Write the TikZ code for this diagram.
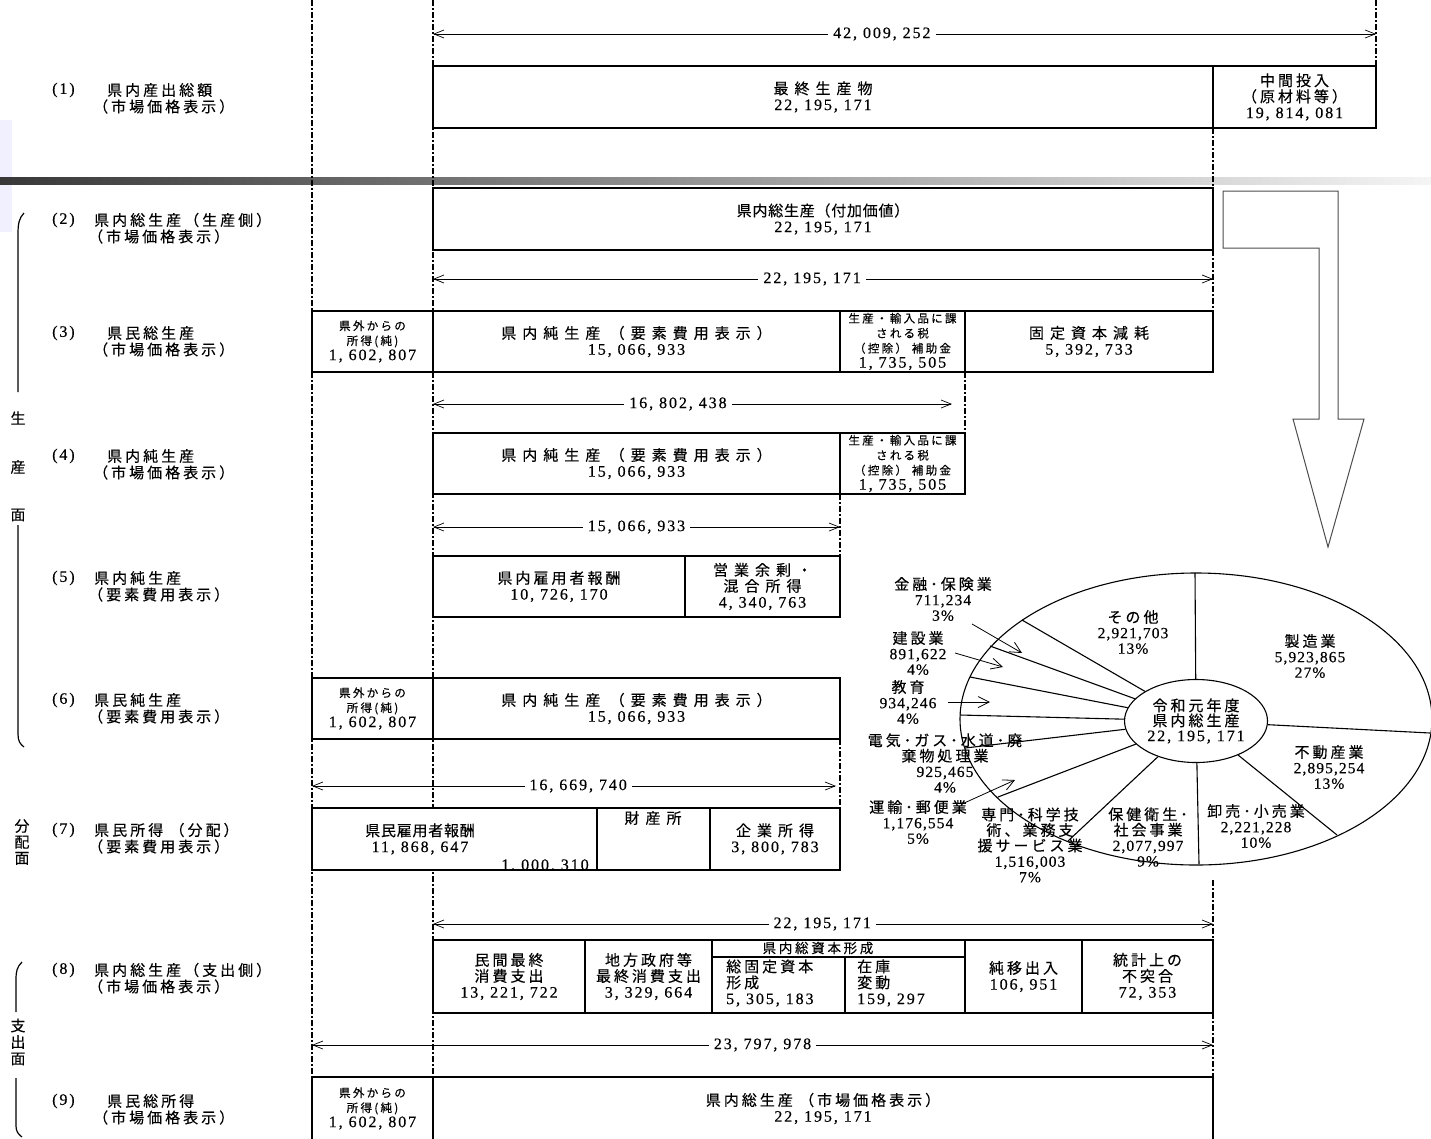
\documentclass[tikz,border=0pt]{standalone}
\usepackage{fontspec}
\setmainfont{Noto Sans CJK JP}
\newfontfamily\jpw[LetterSpace=40,FakeBold=0.3]{Noto Sans CJK JP}
\newfontfamily\jpl[LetterSpace=20,FakeBold=0.3]{Noto Sans CJK JP}
\newfontfamily\jpn[LetterSpace=5,FakeBold=0.3]{Noto Sans CJK JP}
\newfontfamily\numf[LetterSpace=12,FakeBold=0.4]{Liberation Serif}
\newfontfamily\nump[LetterSpace=7,FakeBold=0.4]{Liberation Serif}
\usetikzlibrary{arrows.meta,shapes.geometric}

\newcommand{\fw}{\jpw\fontsize{15}{16}\selectfont}
\newcommand{\fl}{\jpl\fontsize{15}{16}\selectfont}
\newcommand{\fn}{\jpn\fontsize{15}{16}\selectfont}
\newcommand{\fs}{\jpl\fontsize{11.5}{15}\selectfont}
\newcommand{\nb}[1]{{\numf\fontsize{16}{16}\selectfont #1}}
\newcommand{\np}[1]{{\nump\fontsize{15.5}{15.5}\selectfont #1}}
\newcommand{\cellbox}[7][]{%
  \node[cell,minimum width={#5-#3},minimum height={#6-#4},#1] (#2)
    at ({(#3+#5)/2},{(#4+#6)/2}) {#7};}

\tikzset{
  cell/.style={draw,fill=white,line width=1.5pt,inner sep=0pt,align=center,font=\fw},
  guide/.style={line width=1.3pt,dash pattern=on 6pt off 2pt on 2pt off 2pt},
  dim/.style={{Straight Barb[length=10pt,width=8pt]}-{Straight Barb[length=10pt,width=8pt]},line width=0.7pt},
  dimlab/.style={fill=white,inner sep=5pt,font=\numf\fontsize{16}{16}\selectfont},
  lab/.style={anchor=west,inner sep=0pt,font=\fl},
  side/.style={inner sep=0pt,align=center,font=\fn},
  txt/.style={inner sep=0pt,align=center,font=\fl},
  pie/.style={inner sep=0pt,align=center,font=\jpl\fontsize{15}{15.5}\selectfont},
  spoke/.style={line width=1.1pt},
  call/.style={-{Straight Barb[length=11pt,width=11pt]},line width=0.8pt},
}

\begin{document}
\begin{tikzpicture}[x=1pt,y=-1pt]
\useasboundingbox (0,0) rectangle (1431,1138);

% slide decoration
\fill[blue!6] (0,120) rectangle (12,232);
\shade[left color=black!78,middle color=black!38,right color=black!4] (0,177) rectangle (1431,184);

% guide lines
\foreach \x/\ya/\yb in {312/0/1138, 433/0/1138, 1376/0/66, 1213/128/188,
  1213/250/311, 1213/880/940, 1213/1013/1077, 965/372/433, 840/494/556, 840/739/808}
  \draw[guide] (\x,\ya) -- (\x,\yb);

% (1)
\cellbox{fin1}{433}{66}{1213}{128}{最終生産物\\\nb{22, 195, 171}}
\cellbox[font=\fl]{mid1}{1213}{66}{1376}{128}{中間投入\\（原材料等）\\\nb{19, 814, 081}}
% (2)
\cellbox[font=\fn]{gdp2}{433}{188}{1213}{250}{県内総生産（付加価値）\\\nb{22, 195, 171}}
% (3)
\cellbox[font=\fs]{ext3}{312}{311}{433}{372}{県外からの\\所得(純)\\\nb{1, 602, 807}}
\cellbox{net3}{433}{311}{840}{372}{県内純生産 （要素費用表示）\\\nb{15, 066, 933}}
\cellbox[font=\fs]{tax3}{840}{311}{965}{372}{生産・輸入品に課\\される税\\（控除） 補助金\\\nb{1, 735, 505}}
\cellbox{dep3}{965}{311}{1213}{372}{固定資本減耗\\\nb{5, 392, 733}}
% (4)
\cellbox{net4}{433}{433}{840}{494}{県内純生産 （要素費用表示）\\\nb{15, 066, 933}}
\cellbox[font=\fs]{tax4}{840}{433}{965}{494}{生産・輸入品に課\\される税\\（控除） 補助金\\\nb{1, 735, 505}}
% (5)
\cellbox[font=\fl]{emp5}{433}{556}{685}{617}{県内雇用者報酬\\\nb{10, 726, 170}}
\cellbox{opr5}{685}{556}{840}{617}{営業余剰・\\混合所得\\\nb{4, 340, 763}}
% (6)
\cellbox[font=\fs]{ext6}{312}{678}{433}{739}{県外からの\\所得(純)\\\nb{1, 602, 807}}
\cellbox{net6}{433}{678}{840}{739}{県内純生産 （要素費用表示）\\\nb{15, 066, 933}}
% (7)
\cellbox{emp7}{312}{808}{597}{870}{}
\cellbox{prop7}{597}{808}{710}{870}{}
\cellbox{ent7}{710}{808}{840}{870}{企業所得\\\nb{3, 800, 783}}
\node[txt,font=\fn] (emp7t) at (420,839) {県民雇用者報酬\\\nb{11, 868, 647}};
\node[txt,font=\fw] (prop7t) at (653,818) {財産所};
\begin{scope}
  \clip (312,808) rectangle (597,869);
  \node[inner sep=0pt,anchor=base] (prop7v) at (545,870) {\nb{1, 000, 310}};
\end{scope}
% (8)
\cellbox[font=\fl]{pc8}{433}{940}{585}{1013}{民間最終\\消費支出\\\nb{13, 221, 722}}
\cellbox[font=\fl]{gc8}{585}{940}{712}{1013}{地方政府等\\最終消費支出\\\nb{3, 329, 664}}
\cellbox{cap8}{712}{940}{965}{1013}{}
\cellbox{gfc8}{712}{957}{845}{1013}{}
\cellbox{inv8}{845}{957}{965}{1013}{}
\node[txt,font=\jpl\fontsize{13.5}{15}\selectfont] (cap8t) at (818,948) {県内総資本形成};
\node[txt,anchor=west,align=left] (gfc8t) at (726,983) {総固定資本\\形成\\\nb{5, 305, 183}};
\node[txt,anchor=west,align=left] (inv8t) at (857,983) {在庫\\変動\\\nb{159, 297}};
\cellbox[font=\fl]{nx8}{965}{940}{1082}{1013}{純移出入\\\nb{106, 951}}
\cellbox[font=\fl]{sd8}{1082}{940}{1213}{1013}{統計上の\\不突合\\\nb{72, 353}}
% (9)
\cellbox[font=\fs]{ext9}{312}{1077}{433}{1140}{県外からの\\所得(純)\\\nb{1, 602, 807}}
\cellbox[font=\fl]{gdp9}{433}{1077}{1213}{1140}{県内総生産 （市場価格表示）\\\nb{22, 195, 171}}

% dimension arrows
\foreach \xa/\xb/\y/\p/\t [count=\i] in {433/1376/34/0.476/{42, 009, 252},
  433/1213/279/0.486/{22, 195, 171}, 433/952/404/0.472/{16, 802, 438},
  433/840/527/0.5/{15, 066, 933}, 312/836/786/0.508/{16, 669, 740},
  433/1213/924/0.499/{22, 195, 171}, 312/1213/1045/0.5/{23, 797, 978}}
{
  \coordinate (dl\i) at (\xa,\y);
  \coordinate (dr\i) at (\xb,\y);
  \draw[dim] (dl\i) -- node[dimlab,pos=\p] (dt\i) {\t} (dr\i);
}

% row labels
\foreach \i/\y/\xa/\xb/\a/\b in {
  1/90/107/93/県内産出総額/（市場価格表示）,
  2/220/94/88/県内総生産（生産側）/（市場価格表示）,
  3/333/107/93/県民総生産/（市場価格表示）,
  4/456/107/93/県内純生産/（市場価格表示）,
  5/578/94/88/県内純生産/（要素費用表示）,
  6/700/94/88/県民純生産/（要素費用表示）,
  7/830/94/88/県民所得 （分配）/（要素費用表示）,
  8/970/94/88/県内総生産（支出側）/（市場価格表示）,
  9/1101/107/93/県民総所得/（市場価格表示）}
{
  \node[lab] (n\i) at (52,\y) {\nb{(\i)}};
  \node[lab] (a\i) at (\xa,\y) {\a};
  \node[lab] (b\i) at (\xb,\y+16.5) {\b};
}

% side brackets
\node[side] (s1) at (18,418) {生};
\node[side] (s2) at (18,467) {産};
\node[side] (s3) at (18,515) {面};
\node[side] (s4) at (22,842) {分\\配\\面};
\node[side,font=\jpn\fontsize{15}{16.5}\selectfont] (s5) at (18,1042) {支\\出\\面};
\draw[line width=1.2pt] (24,213) .. controls (19,218) and (18,224) .. (18,234) -- (18,392);
\draw[line width=1.2pt] (18,525) -- (18,734) .. controls (18,741) and (20,744) .. (24,747);
\draw[line width=1.2pt] (22,962) .. controls (17,967) and (16,971) .. (16,980) -- (16,1012);
\draw[line width=1.2pt] (16,1078) -- (16,1126) .. controls (16,1131) and (18,1134) .. (22,1137);

% big arrow
\draw[line width=1pt,draw=black!70] (1223,191) -- (1338,191) -- (1338,419) -- (1364,419)
  -- (1328,547) -- (1293,419) -- (1319,419) -- (1319,248) -- (1223,248) -- cycle;

% pie chart
\draw[line width=1.1pt] (1196,719) ellipse [x radius=236, y radius=146];
\node[ellipse,draw,line width=1.1pt,fill=white,minimum width=143pt,minimum height=83pt,
  inner sep=0pt,align=center,font=\jpl\fontsize{15}{15}\selectfont] (core) at (1196,721)
  {令和元年度\\県内総生産\\\nb{22, 195, 171}};
\foreach \px/\py [count=\i] in {1195/573, 1430/733, 1337/835, 1199/864, 1068/841,
  998/797, 965/748, 960/715, 970/677, 990/646, 1022/620}
{
  \coordinate (o\i) at (\px,\py);
  \draw[spoke] (core) -- (o\i);
}
\node[pie] (p1) at (1133,632) {その他\\\np{2,921,703}\\\np{13\%}};
\node[pie] (p2) at (1310,656) {製造業\\\np{5,923,865}\\\np{27\%}};
\node[pie] (p3) at (1329,767) {不動産業\\\np{2,895,254}\\\np{13\%}};
\node[pie] (p4) at (1256,826) {卸売･小売業\\\np{2,221,228}\\\np{10\%}};
\node[pie] (p5) at (1148,837) {保健衛生･\\社会事業\\\np{2,077,997}\\\np{9\%}};
\node[pie] (p6) at (1030,845) {専門･科学技\\術、業務支\\援サービス業\\\np{1,516,003}\\\np{7\%}};
\node[pie] (p7) at (918,822) {運輸･郵便業\\\np{1,176,554}\\\np{5\%}};
\node[pie] (p8) at (945,763) {電気･ガス･水道･廃\\棄物処理業\\\np{925,465}\\\np{4\%}};
\node[pie] (p9) at (908,702) {教育\\\np{934,246}\\\np{4\%}};
\node[pie] (p10) at (918,653) {建設業\\\np{891,622}\\\np{4\%}};
\node[pie] (p11) at (943,599) {金融･保険業\\\np{711,234}\\\np{3\%}};
% callouts
\coordinate (k1a) at (972,624);  \coordinate (k1b) at (1022,653);
\coordinate (k2a) at (955,653);  \coordinate (k2b) at (1003,667);
\coordinate (k3a) at (948,702);  \coordinate (k3b) at (990,702);
\coordinate (k4a) at (962,804);  \coordinate (k4b) at (1015,780);
\foreach \i in {1,...,4}
  \draw[call] (k\i a) -- (k\i b);
\end{tikzpicture}
\end{document}
